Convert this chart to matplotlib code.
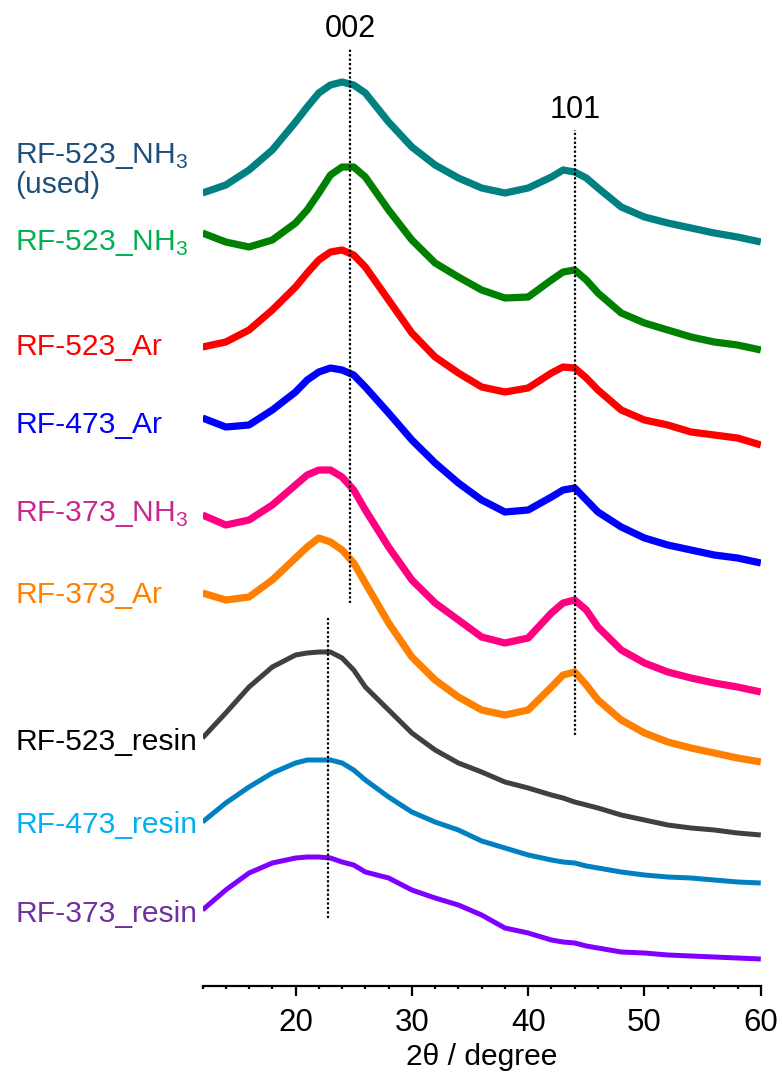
import matplotlib
matplotlib.use("Agg")
import matplotlib.pyplot as plt

plt.rcParams['font.family'] = ['Liberation Sans', 'DejaVu Sans']
plt.rcParams['mathtext.fontset'] = 'custom'
plt.rcParams['mathtext.rm'] = 'Liberation Sans'

# 2theta grid (degree)
two_theta = [12, 14, 16, 18, 20, 21, 22, 23, 24, 25, 26, 28, 30, 32, 34, 36, 38, 40,
             42, 43, 44, 45, 46, 48, 50, 52, 54, 56, 58, 60]

# stacked intensities (a.u.)
rf523_nh3_used = [807, 815, 830, 850, 878, 893, 907, 915, 918, 915, 907, 878, 853, 835, 822,
                  812, 807, 812, 823, 830, 828, 822, 812, 793, 783, 777, 772, 767, 763, 758]
rf523_nh3 = [767, 758, 753, 760, 777, 790, 807, 825, 833, 833, 823, 790, 760, 737, 723,
             710, 702, 703, 720, 728, 730, 720, 707, 687, 677, 670, 663, 658, 655, 650]
rf523_ar = [653, 658, 670, 690, 713, 727, 740, 748, 750, 745, 733, 700, 667, 643, 627,
            613, 608, 612, 627, 633, 632, 622, 610, 590, 580, 575, 568, 565, 562, 555]
rf473_ar = [582, 573, 575, 590, 608, 620, 628, 632, 630, 625, 613, 587, 560, 537, 517,
            500, 488, 490, 503, 510, 512, 500, 488, 473, 462, 455, 450, 445, 442, 437]
rf373_nh3 = [485, 475, 480, 495, 515, 525, 530, 530, 523, 510, 490, 453, 420, 397, 380,
             363, 357, 362, 387, 397, 400, 390, 373, 350, 337, 328, 322, 317, 313, 308]
rf373_ar = [407, 400, 403, 420, 442, 453, 462, 458, 450, 437, 417, 377, 343, 320, 303,
            290, 285, 290, 313, 325, 328, 315, 300, 280, 267, 258, 252, 247, 242, 238]
rf523_resin = [262, 287, 313, 333, 345, 347, 348, 348, 342, 330, 313, 290, 267, 250, 237,
               228, 218, 212, 205, 202, 198, 195, 192, 185, 180, 175, 172, 170, 167, 165]
rf473_resin = [178, 197, 213, 227, 237, 240, 240, 240, 237, 230, 220, 203, 188, 178, 170,
               159, 152, 145, 140, 138, 137, 134, 132, 128, 125, 123, 122, 120, 118, 117]
rf373_resin = [90, 110, 127, 137, 142, 143, 143, 142, 138, 135, 128, 122, 110, 102, 95,
               85, 72, 67, 60, 58, 57, 54, 52, 48, 47, 45, 44, 43, 42, 41]

series = [rf523_nh3_used, rf523_nh3, rf523_ar, rf473_ar, rf373_nh3, rf373_ar,
          rf523_resin, rf473_resin, rf373_resin]
line_colors = ['#008080', '#008000', '#FF0000', '#0000FF', '#FF0080', '#FF8000',
               '#404040', '#0080C0', '#8000FF']
line_widths = [5.2, 5.2, 5.2, 5.2, 5.2, 5.2, 3.6, 3.6, 3.6]

labels = ['RF-523_NH$_{3}$\n(used)', 'RF-523_NH$_{3}$', 'RF-523_Ar', 'RF-473_Ar',
          'RF-373_NH$_{3}$', 'RF-373_Ar', 'RF-523_resin', 'RF-473_resin', 'RF-373_resin']
label_colors = ['#1F4E79', '#00B050', '#FF0000', '#0000FF', '#C8288C', '#FF8000',
                '#000000', '#00B0F0', '#7030A0']
label_baselines_px = [163, 250, 355, 433, 521, 603, 750, 833, 922]

# reference lines: position (degree), bottom, top (a.u.)
ref_pos = [24.7, 44.0, 22.8]
ref_bottom = [397, 265, 82]
ref_top = [952, 870, 382]
ref_text = ['002', '101']
ref_text_y = [963, 882]

W, H = 783, 1086
fig = plt.figure(figsize=(W / 100, H / 100), dpi=100)
ax = fig.add_axes([202.5 / W, 100 / H, (760.8 - 202.5) / W, 1 - 100 / H])

for ys, c, lw in zip(series, line_colors, line_widths):
    ax.plot(two_theta, ys, color=c, lw=lw, solid_joinstyle='round', solid_capstyle='butt')

for xp, yb, yt in zip(ref_pos, ref_bottom, ref_top):
    ax.plot([xp, xp], [yb, yt], color='black', lw=1.6, linestyle=(0, (1, 1)))

for xp, t, ty in zip(ref_pos[:2], ref_text, ref_text_y):
    ax.text(xp, ty, t, ha='center', va='baseline', fontsize=22, color='black')

for lab, c, yb in zip(labels, label_colors, label_baselines_px):
    if '\n' in lab:
        l1, l2 = lab.split('\n')
        fig.text(15 / W, 1 - yb / H, l1, color=c, fontsize=21.6, ha='left', va='baseline')
        fig.text(15 / W, 1 - (yb + 30) / H, l2, color=c, fontsize=21.6, ha='left', va='baseline')
    else:
        fig.text(15 / W, 1 - yb / H, lab, color=c, fontsize=21.6, ha='left', va='baseline')

ax.set_xlim(12, 60)
ax.set_ylim(14, 1000)
for s in ['top', 'right', 'left']:
    ax.spines[s].set_visible(False)
ax.spines['bottom'].set_linewidth(1.6)
ax.set_yticks([])
ax.set_xticks([20, 30, 40, 50, 60])
ax.set_xticks(range(12, 61, 2), minor=True)
ax.tick_params(axis='x', which='major', direction='out', length=7.5, width=1.6,
               labelsize=22.5, pad=8)
ax.tick_params(axis='x', which='minor', direction='out', length=2.5, width=1.6)
ax.set_xlabel('2θ / degree', fontsize=21.6, labelpad=4)

fig.savefig('out.png', dpi=100)
